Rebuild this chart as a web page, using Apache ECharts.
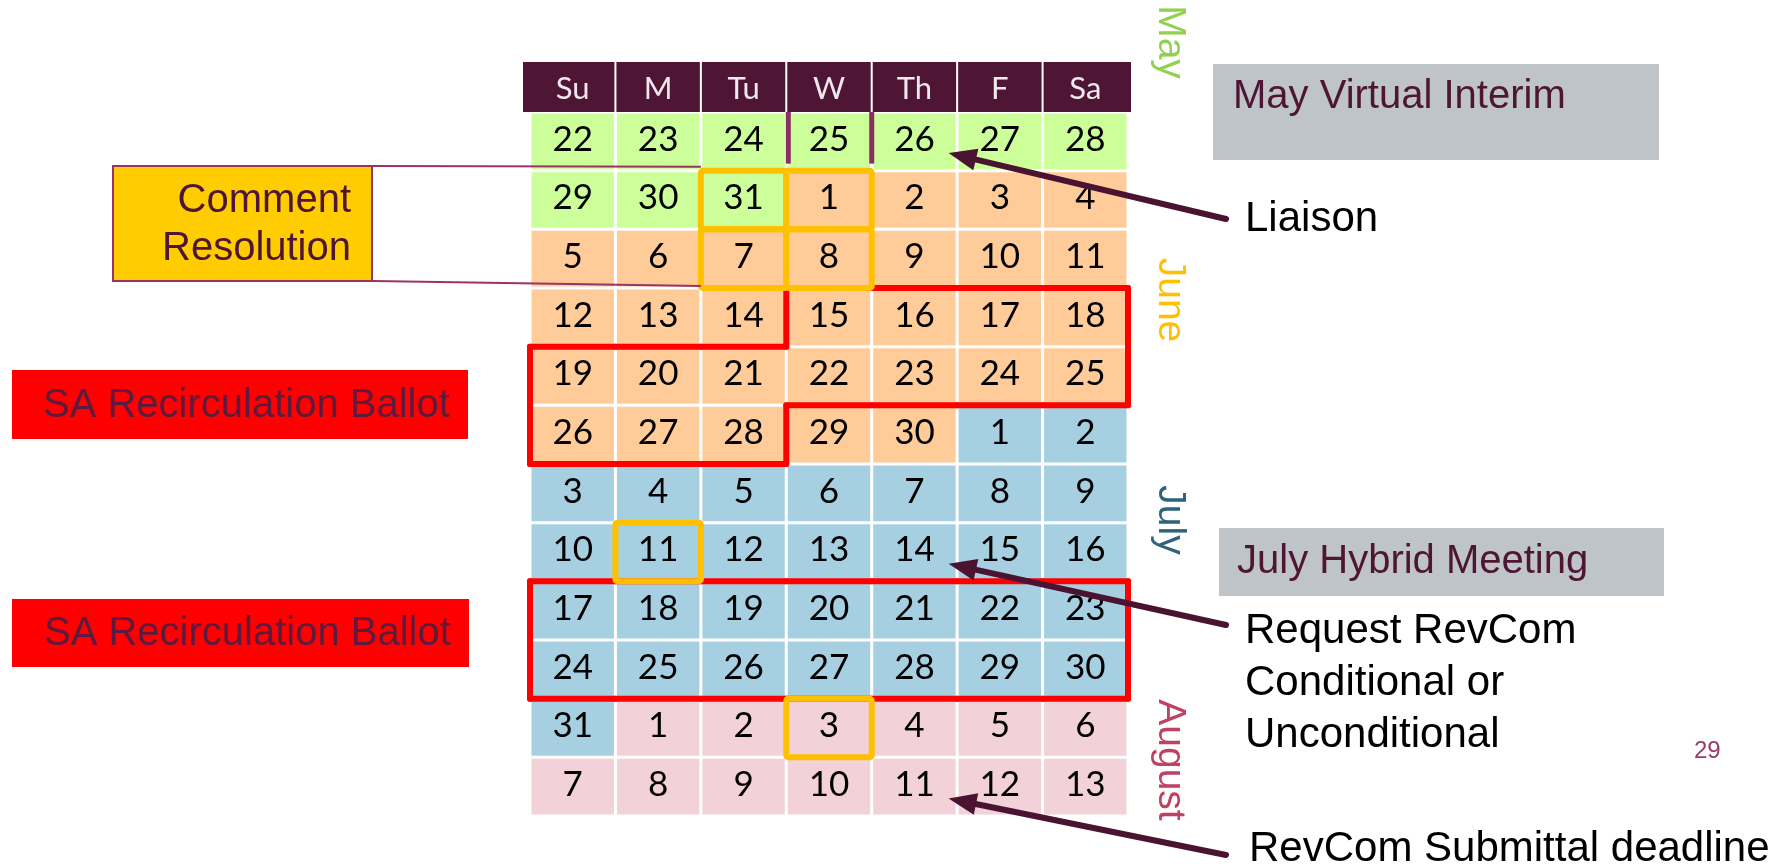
<!DOCTYPE html>
<html>
<head>
<meta charset="utf-8">
<script src="https://cdn.jsdelivr.net/npm/echarts@6/dist/echarts.min.js"></script>
<style>
html,body{margin:0;padding:0;background:#ffffff;}
#chart{width:1788px;height:868px;}
</style>
</head>
<body>
<div id="chart"></div>
<script>
// ---------- data ----------
const weekdays = ['Su', 'M', 'Tu', 'W', 'Th', 'F', 'Sa'];
const dayRows = [
  [22, 23, 24, 25, 26, 27, 28],
  [29, 30, 31, 1, 2, 3, 4],
  [5, 6, 7, 8, 9, 10, 11],
  [12, 13, 14, 15, 16, 17, 18],
  [19, 20, 21, 22, 23, 24, 25],
  [26, 27, 28, 29, 30, 1, 2],
  [3, 4, 5, 6, 7, 8, 9],
  [10, 11, 12, 13, 14, 15, 16],
  [17, 18, 19, 20, 21, 22, 23],
  [24, 25, 26, 27, 28, 29, 30],
  [31, 1, 2, 3, 4, 5, 6],
  [7, 8, 9, 10, 11, 12, 13]
];
// 0 = May, 1 = June, 2 = July, 3 = August
const monthRows = [
  [0, 0, 0, 0, 0, 0, 0],
  [0, 0, 0, 1, 1, 1, 1],
  [1, 1, 1, 1, 1, 1, 1],
  [1, 1, 1, 1, 1, 1, 1],
  [1, 1, 1, 1, 1, 1, 1],
  [1, 1, 1, 1, 1, 2, 2],
  [2, 2, 2, 2, 2, 2, 2],
  [2, 2, 2, 2, 2, 2, 2],
  [2, 2, 2, 2, 2, 2, 2],
  [2, 2, 2, 2, 2, 2, 2],
  [2, 3, 3, 3, 3, 3, 3],
  [3, 3, 3, 3, 3, 3, 3]
];
const monthNames = ['May', 'June', 'July', 'August'];
// highlighted cells as [row, col]
const orangeCells = [[1, 2], [1, 3], [2, 2], [2, 3], [7, 1], [10, 3]];
const ballotCells1 = [[3, 3], [3, 4], [3, 5], [3, 6],
  [4, 0], [4, 1], [4, 2], [4, 3], [4, 4], [4, 5], [4, 6],
  [5, 0], [5, 1], [5, 2]];
const ballotCells2 = [[8, 0], [8, 1], [8, 2], [8, 3], [8, 4], [8, 5], [8, 6],
  [9, 0], [9, 1], [9, 2], [9, 3], [9, 4], [9, 5], [9, 6]];
const liaisonCell = [0, 4];
const revcomRequestCell = [7, 4];
const revcomDeadlineCell = [11, 4];
const interimCell = [0, 3];
const commentCellsTop = [1, 2];
const commentCellsBottom = [2, 2];
const pageNumber = '29';

// ---------- styles ----------
const monthFill = ['#CCFF99', '#FFCC99', '#A6D0E2', '#F2D1D9'];
const monthText = ['#92D050', '#FFC000', '#2F6379', '#BF4163'];
const maroon = '#4E1534';
const sansFont = '"Liberation Sans", Arial, sans-serif';
const numFont = 'Lato, "Open Sans", sans-serif';

const chart = echarts.init(document.getElementById('chart'), null, {renderer: 'canvas'});

const cellData = [];
dayRows.forEach((row, r) => row.forEach((d, c) => cellData.push([c, r, d, monthRows[r][c]])));

function ballotData(cells, idx) {
  return cells.map(([r, c]) => [c, r, idx]);
}
const ballotSets = [ballotCells1, ballotCells2].map(cells => new Set(cells.map(([r, c]) => r + ',' + c)));

const option = {
  animation: false,
  backgroundColor: '#ffffff',
  grid: {left: 530, top: 112, width: 598, height: 704},
  xAxis: {type: 'value', min: 0, max: 7, show: false},
  yAxis: {type: 'value', min: 0, max: 12, inverse: true, show: false},
  series: [
    {
      // weekday header row
      type: 'custom', clip: false, z: 2,
      data: weekdays.map((d, i) => [i, 0]),
      renderItem(params, api) {
        const c = api.value(0);
        const p0 = api.coord([c, 0]), p1 = api.coord([c + 1, 0]);
        const extraL = c === 0 ? 8 : 0, extraR = c === 6 ? 4 : 0;
        const hTop = p0[1] - 50;
        return {
          type: 'group', children: [
            {type: 'rect', shape: {x: p0[0] - extraL + 1, y: hTop, width: p1[0] - p0[0] + extraL + extraR - 2, height: 50},
              style: {fill: maroon}},
            {type: 'text', style: {text: weekdays[c], x: (p0[0] + p1[0]) / 2, y: hTop + 27,
              align: 'center', verticalAlign: 'middle', textAlign: 'center', textVerticalAlign: 'middle',
              font: '31px ' + numFont, fill: '#F0E9EC'}}
          ]
        };
      }
    },
    {
      type: 'custom', data: cellData, z: 2,
      renderItem(params, api) {
        const c = api.value(0), r = api.value(1);
        const p0 = api.coord([c, r]), p1 = api.coord([c + 1, r + 1]);
        const g = 1.5;
        return {
          type: 'group', children: [
            {type: 'rect', shape: {x: p0[0] + g, y: p0[1] + g, width: p1[0] - p0[0] - 2 * g, height: p1[1] - p0[1] - 2 * g},
              style: {fill: monthFill[api.value(3)]}},
            {type: 'text', style: {text: String(api.value(2)), x: (p0[0] + p1[0]) / 2, y: (p0[1] + p1[1]) / 2 - 2,
              align: 'center', verticalAlign: 'middle', textAlign: 'center', textVerticalAlign: 'middle',
              font: '35px ' + numFont, fill: '#000000'}}
          ]
        };
      }
    },
    {
      type: 'custom', z: 3,
      data: ballotData(ballotCells1, 0).concat(ballotData(ballotCells2, 1)),
      renderItem(params, api) {
        const c = api.value(0), r = api.value(1), s = ballotSets[api.value(2)];
        const has = (rr, cc) => s.has(rr + ',' + cc);
        const tl = api.coord([c, r]), br = api.coord([c + 1, r + 1]);
        const edges = [];
        if (!has(r - 1, c)) edges.push([tl[0], tl[1], br[0], tl[1]]);
        if (!has(r + 1, c)) edges.push([tl[0], br[1], br[0], br[1]]);
        if (!has(r, c - 1)) edges.push([tl[0], tl[1], tl[0], br[1]]);
        if (!has(r, c + 1)) edges.push([br[0], tl[1], br[0], br[1]]);
        return {
          type: 'group', children: edges.map(e => ({
            type: 'line', shape: {x1: e[0], y1: e[1], x2: e[2], y2: e[3]},
            style: {stroke: '#FF0000', lineWidth: 6, lineCap: 'round'}
          }))
        };
      }
    },
    {
      type: 'custom', z: 4,
      data: orangeCells.map(([r, c]) => [c, r]),
      renderItem(params, api) {
        const c = api.value(0), r = api.value(1);
        const tl = api.coord([c, r]), br = api.coord([c + 1, r + 1]);
        return {type: 'rect', shape: {x: tl[0], y: tl[1], width: br[0] - tl[0], height: br[1] - tl[1], r: 2},
          style: {fill: 'none', stroke: '#FFC000', lineWidth: 6}};
      }
    }
  ]
};
chart.setOption(option);

// ---------- annotations ----------
const px = (x, y) => chart.convertToPixel({xAxisIndex: 0, yAxisIndex: 0}, [x, y]);

function arrow(start, cell) {
  const tip = px(cell[1] + 0.9, cell[0] + 0.7);
  const dx = tip[0] - start[0], dy = tip[1] - start[1];
  const len = Math.sqrt(dx * dx + dy * dy);
  const ux = dx / len, uy = dy / len;
  const headLen = 28, headW = 11;
  const bx = tip[0] - ux * headLen, by = tip[1] - uy * headLen;
  return [
    {type: 'line', z: 10, shape: {x1: start[0], y1: start[1], x2: bx + ux * 4, y2: by + uy * 4},
      style: {stroke: '#4A1331', lineWidth: 6, lineCap: 'round'}},
    {type: 'polygon', z: 10, shape: {points: [[tip[0], tip[1]], [bx - uy * headW, by + ux * headW], [bx + uy * headW, by - ux * headW]]},
      style: {fill: '#4A1331'}}
  ];
}

function label(text, x, y, opts) {
  return {
    type: 'text', z: 12,
    style: Object.assign({
      text: text, x: x, y: y, font: '40px ' + sansFont, fill: '#000000',
      align: 'left', verticalAlign: 'middle', textAlign: 'left', textVerticalAlign: 'middle'
    }, opts || {})
  };
}

function monthLabel(idx, cx, cy) {
  return {
    type: 'text', z: 12, x: cx, y: cy, rotation: -Math.PI / 2,
    style: {text: monthNames[idx], x: 0, y: 0, font: '39px ' + sansFont, fill: monthText[idx],
      align: 'center', verticalAlign: 'middle', textAlign: 'center', textVerticalAlign: 'middle'}
  };
}

const cTop = px(commentCellsTop[1], commentCellsTop[0]);
const cBot = px(commentCellsBottom[1], commentCellsBottom[0] + 1);
const wTop = px(interimCell[1], interimCell[0]);
const wBot = px(interimCell[1] + 1, interimCell[0] + 0.88);
const bigFont = '42px ' + sansFont;

const graphics = [
  // purple bracket on W column
  {type: 'line', z: 5, shape: {x1: wTop[0] + 2, y1: wTop[1], x2: wTop[0] + 2, y2: wBot[1]}, style: {stroke: '#8B2F63', lineWidth: 5}},
  {type: 'line', z: 5, shape: {x1: wBot[0], y1: wTop[1], x2: wBot[0], y2: wBot[1]}, style: {stroke: '#8B2F63', lineWidth: 5}},

  // Comment Resolution box and connectors
  {type: 'line', z: 6, shape: {x1: 373, y1: 166, x2: cTop[0], y2: cTop[1] - 4}, style: {stroke: '#993366', lineWidth: 2}},
  {type: 'line', z: 6, shape: {x1: 373, y1: 281, x2: cBot[0], y2: cBot[1] - 2}, style: {stroke: '#993366', lineWidth: 2}},
  {type: 'rect', z: 7, shape: {x: 113, y: 166, width: 259, height: 115}, style: {fill: '#FFCC00', stroke: '#993366', lineWidth: 2}},
  label('Comment\nResolution', 351, 225, {align: 'right', textAlign: 'right', fill: maroon, lineHeight: 48}),

  // SA Recirculation Ballot boxes
  {type: 'rect', z: 7, shape: {x: 12, y: 370, width: 456, height: 69}, style: {fill: '#FF0000'}},
  label('SA Recirculation Ballot', 43, 406, {fill: '#5E1A3E'}),
  {type: 'rect', z: 7, shape: {x: 12, y: 599, width: 457, height: 68}, style: {fill: '#FF0000'}},
  label('SA Recirculation Ballot', 44, 634, {fill: '#5E1A3E'}),

  // meeting boxes
  {type: 'rect', z: 7, shape: {x: 1213, y: 64, width: 446, height: 96}, style: {fill: '#BFC4C8'}},
  label('May Virtual Interim', 1233, 97, {fill: maroon}),
  {type: 'rect', z: 7, shape: {x: 1219, y: 528, width: 445, height: 68}, style: {fill: '#BFC4C8'}},
  label('July Hybrid Meeting', 1237, 562, {fill: maroon}),

  // milestone texts
  label('Liaison', 1245, 219, {font: bigFont}),
  label('Request RevCom\nConditional or\nUnconditional', 1245, 683, {font: bigFont, lineHeight: 52}),
  label('RevCom Submittal deadline', 1249, 849, {font: bigFont}),
  label(pageNumber, 1694, 751, {font: '24px ' + sansFont, fill: '#9A3A6A'}),

  // month labels
  monthLabel(0, 1170, 42),
  monthLabel(1, 1170, 300),
  monthLabel(2, 1170, 520),
  monthLabel(3, 1170, 760)
]
  .concat(arrow([1226, 219], liaisonCell))
  .concat(arrow([1226, 625], revcomRequestCell))
  .concat(arrow([1226, 855], revcomDeadlineCell));

chart.setOption({graphic: graphics});
</script>
</body>
</html>
